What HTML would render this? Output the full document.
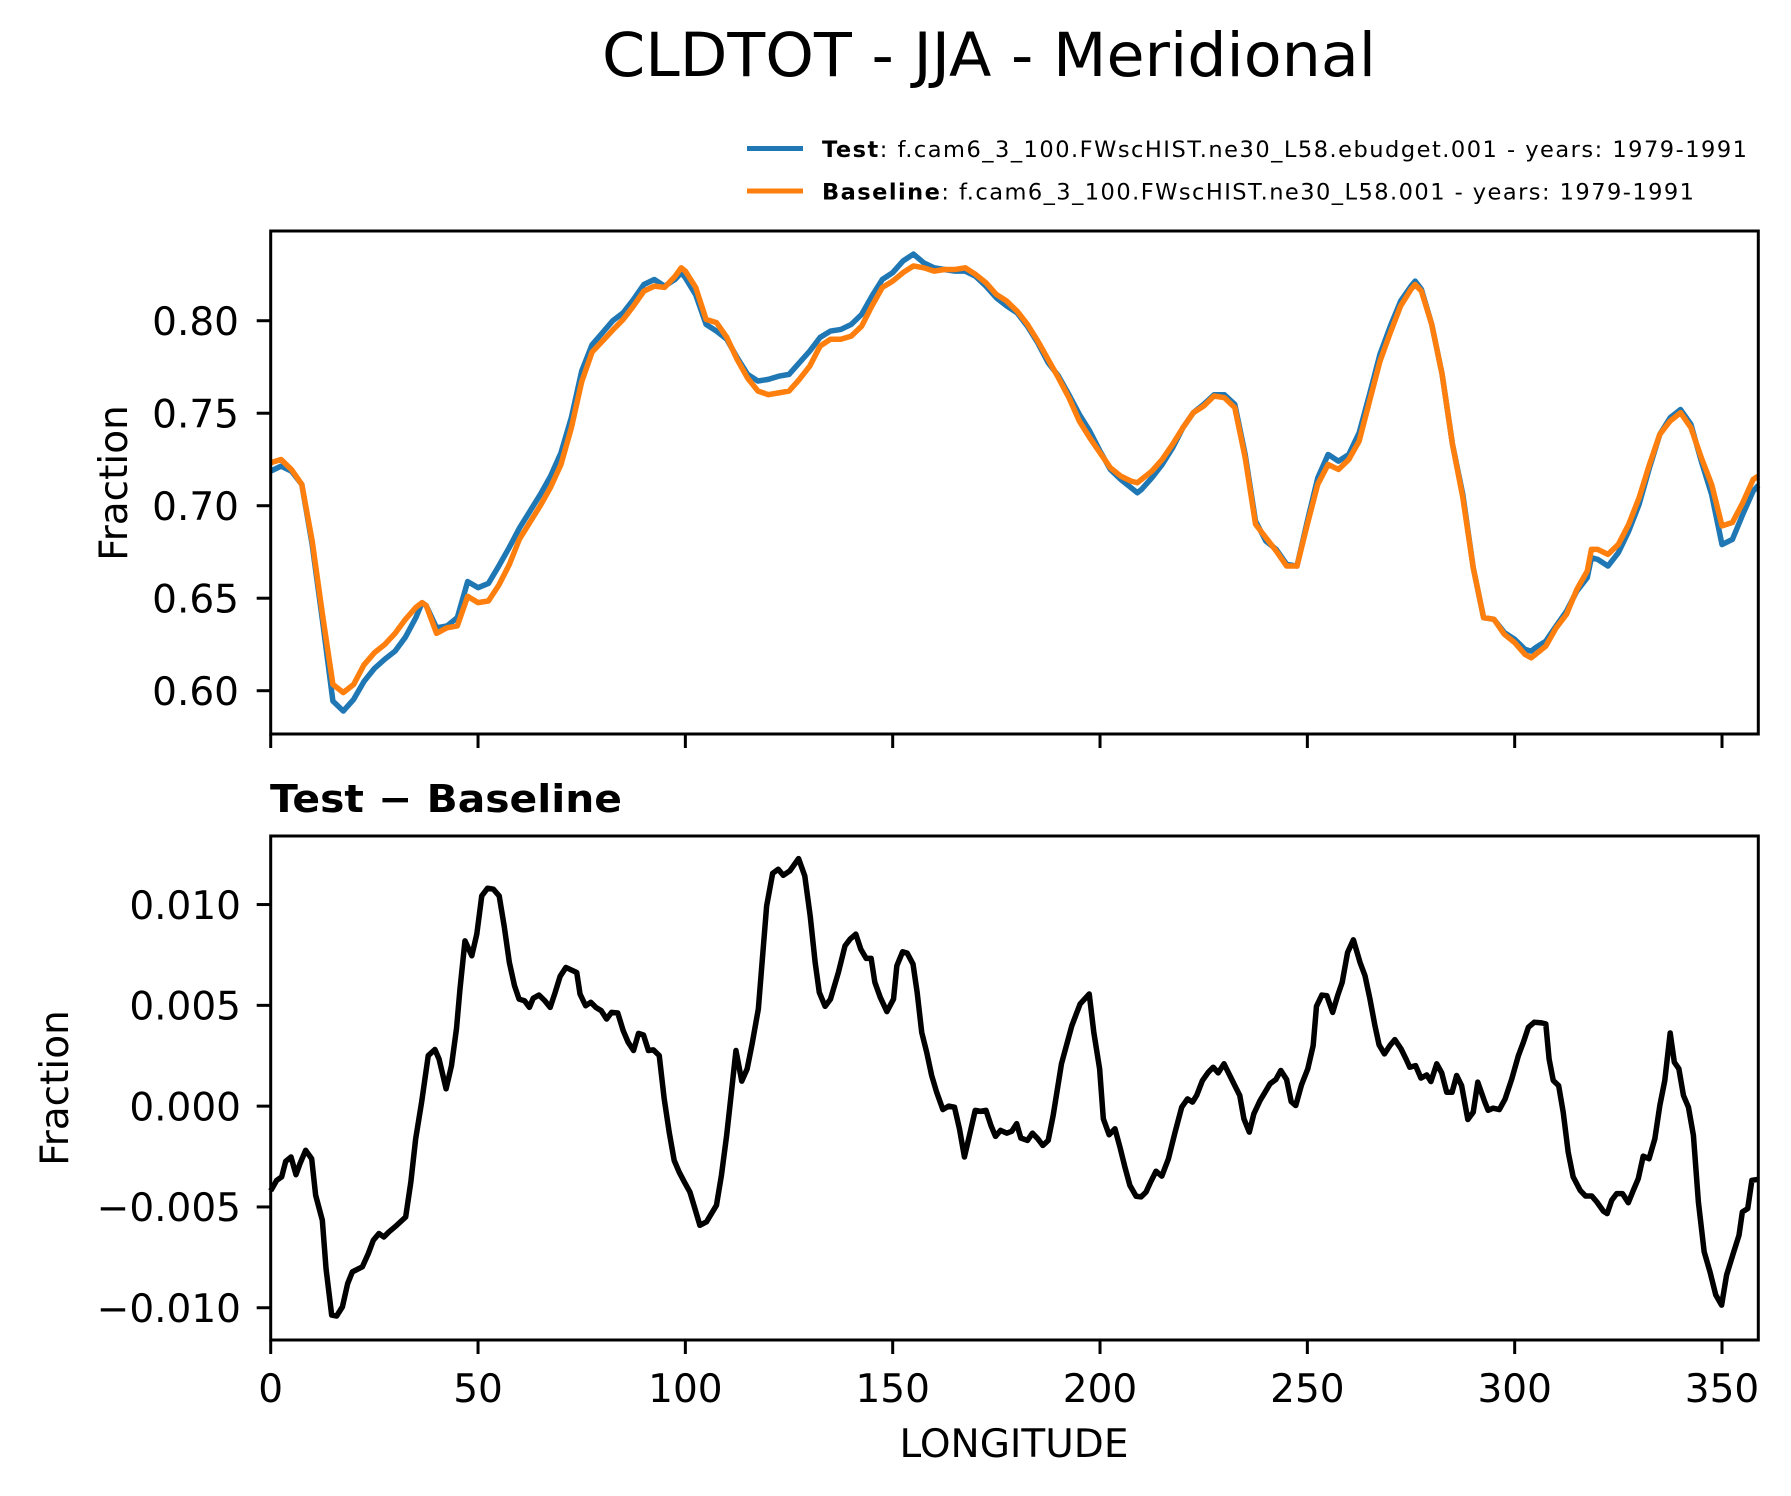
<!DOCTYPE html>
<html><head><meta charset="utf-8"><style>
html,body{margin:0;padding:0;background:#fff;}
svg{display:block;font-family:"DejaVu Sans","Liberation Sans",sans-serif;}
</style></head><body>
<svg id="fig" width="1791" height="1496" viewBox="0 0 1791 1496" xmlns="http://www.w3.org/2000/svg">
<rect width="1791" height="1496" fill="#fff"/>
<text x="989" y="76" font-size="61" text-anchor="middle" textLength="774" lengthAdjust="spacingAndGlyphs">CLDTOT - JJA - Meridional</text>
<g>
<line x1="747" y1="148.5" x2="803" y2="148.5" stroke="#1f77b4" stroke-width="5"/>
<text x="822" y="157" font-size="22.5" textLength="925" lengthAdjust="spacing"><tspan font-weight="bold">Test</tspan>: f.cam6_3_100.FWscHIST.ne30_L58.ebudget.001 - years: 1979-1991</text>
<line x1="747" y1="191" x2="803" y2="191" stroke="#ff7f0e" stroke-width="5"/>
<text x="822" y="199.5" font-size="22.5" textLength="872" lengthAdjust="spacing"><tspan font-weight="bold">Baseline</tspan>: f.cam6_3_100.FWscHIST.ne30_L58.001 - years: 1979-1991</text>
</g>
<g id="gtop"></g>
<g id="gbot"></g>
<text x="270" y="812" font-size="38" font-weight="bold" textLength="352" lengthAdjust="spacingAndGlyphs">Test − Baseline</text>
<text transform="translate(127,483) rotate(-90)" font-size="39" text-anchor="middle">Fraction</text>
<text transform="translate(68,1088) rotate(-90)" font-size="39" text-anchor="middle">Fraction</text>
<text x="1014" y="1457" font-size="39" text-anchor="middle">LONGITUDE</text>
</svg>
<script>
const lons = [0,2.5,5,7.5,10,12.5,15,17.5,20,22.5,25,27.5,30,32.5,35,36.5,37.5,40,42.5,45,47.5,50,52.5,55,57.5,60,62.5,65,67.5,70,72.5,75,77.5,80,82.5,85,87.5,90,92.5,95,97.5,99,100,102.5,105,107.5,110,112.5,115,117.5,
120,122.5,125,127.5,130,132.5,135,137.5,140,142.5,145,147.5,150,152.5,155,157.5,160,162.5,165,167.5,170,172.5,175,177.5,180,182.5,185,187.5,190,192.5,195,197.5,200,202.5,205,207.5,
209,
210,212.5,215,217.5,220,222.5,225,227.5,230,232.5,235,237.5,240,242.5,245,247.5,250,252.5,255,257.5,260,262.5,265,267.5,270,272.5,275,
276,
277.5,280,282.5,285,287.5,290,292.5,295,297.5,300,302.5,
304,
305,307.5,310,312.5,315,317.5,
318.5,
320,322.5,325,327.5,330,332.5,335,337.5,340,342.5,345,347.5,350,352.5,355,357.5,
358.75];
const baseline = [.7232,.725,.7196,.7115,.681,.641,.6034,.599,.6034,.614,.6205,.625,.631,.6386,.645,.6476,.646,.631,.634,.635,.651,.6476,.6485,.657,.668,.682,.691,.700,.710,.7223,.742,.767,.783,.789,.795,.8007,.808,.816,.8187,.818,.824,.8286,.8268,.818,.8007,.799,.791,.779,.769,.762,
.760,.761,.762,.7683,.7755,.7863,.790,.790,.7917,.797,.808,.818,.8214,.826,.8296,.8286,.8268,.8277,.8277,.8286,.825,.8205,.8142,.8106,.8052,.798,.789,.779,.769,.7584,.7458,.7368,.7286,.7205,.716,.7133,
.7124,
.7142,.7187,.725,.7332,.7422,.7503,.7539,.7593,.7584,.753,.726,.690,.6827,.6755,.6674,.6674,.690,.7115,.7223,.7196,.725,.735,.7566,.778,.7935,.808,.817,
.8196,
.816,.798,.771,.7332,.7043,.6665,.6395,.6386,.6305,.626,.6196,
.6178,
.6196,.6241,.634,.6413,.6548,.6647,
.6764,
.6764,.6737,.6791,.690,.7043,.7223,.7386,.7458,.7503,.7422,.726,.7115,.6891,.6909,.7016,.7142,
.716];
const test = [.7187,.7214,.7187,.7115,.679,.6377,.5944,.589,.5953,.605,.612,.617,.6214,.629,.6395,.6476,.646,.634,.635,.6395,.659,.6557,.658,.6674,.6773,.688,.697,.706,.716,.7286,.7476,.7728,.787,.7935,.800,.8043,.8115,.8196,.8223,.8187,.8223,.826,.8232,.814,.798,.7944,.790,.780,.771,.7674,
.7683,.770,.771,.7773,.7836,.791,.7944,.7953,.798,.8034,.8133,.8223,.826,.8323,.836,.8313,.8286,.8277,.8268,.8268,.824,.8187,.8124,.808,.8043,.797,.788,.7773,.770,.760,.7494,.7404,.7295,.7196,.7142,.7097,
.707,
.7088,.7151,.7223,.7313,.7422,.7503,.7548,.760,.760,.7548,.7277,.6917,.6809,.6764,.6683,.6674,.6917,.715,.7277,.7241,.7277,.7395,.7602,.7818,.797,.8106,.8187,
.8214,
.817,.798,.771,.7332,.706,.6665,.6395,.6386,.6314,.6278,.6223,
.6214,
.6232,.6268,.635,.643,.6539,.6611,
.6719,
.671,.6674,.6746,.6863,.7007,.7205,.7386,.7476,.752,.744,.7241,.706,.679,.6818,.6953,.7079,
.711];
const diffLons = [0,1.44,2.64,3.61,4.9,6.1,7.07,8.43,9.88,10.84,12.45,13.34,14.7,15.9,17.3,18.56,19.69,22.1,23.55,24.75,26.1,27.3,28.5,30.4,32.55,33.8,34.96,36.4,38.0,39.6,40.6,42.3,43.6,44.8,45.65,46.85,48.5,49.7,50.9,52.3,53.7,55.1,56.3,57.55,58.8,59.9,61.2,62.4,63.3,64.7,66.1,67.4,68.6,69.8,71.2,73.8,74.6,75.95,77.2,78.4,79.7,81.0,82.2,83.7,85.0,86.2,87.5,88.7,89.9,91.1,92.3,93.7,94.9,96.1,97.3,98.5,99.75,101.1,102.3,103.5,105.1,106.3,107.5,108.7,109.96,111.2,112.2,113.6,114.9,116.1,117.6,
119.6,121.05,122.4,123.6,125.2,127.3,128.8,130.1,131.3,132.3,133.7,135.0,136.9,138.5,139.7,141.1,142.3,143.6,144.8,145.7,147.0,148.6,150.2,151.0,152.4,153.5,154.9,155.9,157.0,158.2,159.4,160.6,162.1,163.5,164.9,166.1,167.3,168.7,169.9,171.2,172.5,173.7,174.8,176.0,177.5,178.7,179.9,180.9,182.5,183.7,185.0,186.2,187.5,188.7,190.7,193.2,195.2,197.4,198.5,199.9,200.8,202.2,203.6,204.8,206.0,207.2,208.7,209.9,211.1,212.2,213.5,214.9,216.5,218.1,219.7,221.1,222.3,223.3,224.7,226.1,227.3,228.5,229.9,231.3,232.5,233.7,234.7,236.0,237.1,238.6,
239.8,241.0,242.4,243.6,245.0,246.1,247.2,248.6,250.1,251.4,252.2,253.5,254.7,256.1,257.3,258.4,259.7,261.1,262.7,263.9,265.1,266.3,267.3,268.6,269.9,271.1,272.6,273.7,274.7,276.1,277.4,278.8,279.8,281.2,282.4,283.6,284.9,286.0,287.2,288.7,290.0,291.1,292.8,293.6,294.8,296.3,297.7,299.3,300.9,302.1,303.3,304.7,306.5,307.5,308.3,309.3,310.6,311.7,312.9,314.1,315.8,317.1,318.6,319.8,321.4,322.3,323.4,324.6,326.0,327.4,328.6,329.8,331.0,332.4,333.8,335.0,336.2,337.5,338.5,339.6,340.7,341.9,343.1,344.3,345.7,347.1,348.5,349.9,351.1,352.7,354.1,354.9,356.2,357.2,358.75];
const diffVals = [-.0042,-.00368,-.00351,-.00274,-.00252,-.0034,-.00285,-.00219,-.00261,-.00442,-.00566,-.00805,-.01036,-.01041,-.00995,-.0088,-.00822,-.00797,-.00731,-.00665,-.00632,-.00649,-.00624,-.00591,-.0055,-.00376,-.00162,.0002,.00251,.00281,.00234,.00086,.00201,.00383,.00581,.0082,.00746,.00853,.01043,.01081,.01076,.01043,.00894,.00713,.00597,.00531,.00523,.0049,.00535,.00551,.00523,.0049,.00564,.00644,.00688,.00663,.00556,.00498,.00515,.0049,.00474,.00432,.00465,.00462,.00375,.00317,.00276,.00361,.00353,.00276,.00279,.00251,.00036,-.00129,-.00269,-.00327,-.00376,-.00426,-.00508,-.00591,-.00574,-.00533,-.00492,-.00343,-.00145,.00086,.00276,.00124,.00185,.00309,.00482,
.00993,.01155,.01175,.01145,.01167,.01228,.01142,.00944,.00713,.00564,.00495,.00531,.00663,.00795,.00828,.00853,.00779,.00733,.00733,.00614,.0054,.00469,.00531,.00696,.00766,.00759,.00705,.00564,.00366,.00267,.00152,.00069,-.00017,0,-.00005,-.00112,-.00252,-.00129,-.00021,-.00026,-.00021,-.00096,-.0015,-.0012,-.00134,-.00125,-.00087,-.00158,-.0017,-.00134,-.00162,-.00195,-.0017,-.00046,.0021,.00399,.00507,.00556,.00366,.00185,-.00063,-.00142,-.00112,-.00203,-.00302,-.00393,-.00447,-.0045,-.00426,-.00376,-.00323,-.00347,-.00261,-.00129,-.00005,.00036,.0002,.00053,.00127,.00168,.00193,.00165,.0021,.00152,.00102,.00053,-.00063,-.00129,-.00038,.00028,
.00069,.00111,.00132,.00177,.00132,.00023,.00003,.00106,.00185,.003,.00495,.00551,.00548,.00465,.00548,.00614,.00762,.00825,.00713,.00647,.00531,.00399,.00304,.00259,.003,.0033,.00284,.00238,.00193,.00201,.00139,.00155,.00122,.0021,.00165,.00069,.00069,.00152,.00102,-.00066,-.0003,.00119,.0002,-.00021,-.0001,-.00017,.00036,.00135,.00251,.00317,.00391,.00416,.00413,.00408,.00234,.00127,.00102,-.0003,-.00228,-.00351,-.00418,-.00446,-.00446,-.00475,-.00521,-.00533,-.00467,-.00434,-.00434,-.00479,-.00418,-.0036,-.00248,-.00261,-.00162,.00003,.00127,.00363,.00218,.00185,.00053,-.00005,-.00145,-.00475,-.00723,-.00822,-.00937,-.00987,-.00838,-.00731,-.0064,-.00525,-.00508,-.00368,-.00363];
const xTicks = [0,50,100,150,200,250,300,350];
const topYTicks = [0.60,0.65,0.70,0.75,0.80];
const topYLabels = ["0.60","0.65","0.70","0.75","0.80"];
const botYTicks = [-0.010,-0.005,0,0.005,0.010];
const botYLabels = ["\u22120.010","\u22120.005","0.000","0.005","0.010"];

const NS = "http://www.w3.org/2000/svg";
const AXL = 270.7, AXR = 1758.3, XMAX = 358.75;
const xS = v => AXL + (v / XMAX) * (AXR - AXL);
const T1 = 231, B1 = 734, Y1MIN = 0.5766, Y1MAX = 0.8485;
const yTop = v => B1 - (v - Y1MIN) / (Y1MAX - Y1MIN) * (B1 - T1);
const T2 = 836, B2 = 1340, Y2MIN = -0.0116, Y2MAX = 0.0134;
const yBot = v => B2 - (v - Y2MIN) / (Y2MAX - Y2MIN) * (B2 - T2);

function mk(tag, attrs, parent) {
  const e = document.createElementNS(NS, tag);
  for (const k in attrs) e.setAttribute(k, attrs[k]);
  parent.appendChild(e);
  return e;
}
function pathFrom(xs, ys, yf) {
  return xs.map((x, i) => (i ? "L" : "M") + xS(x).toFixed(2) + " " + yf(ys[i]).toFixed(2)).join(" ");
}

const gTop = document.getElementById("gtop");
const gBot = document.getElementById("gbot");

const pTest = mk("path", {d: pathFrom(lons, test, yTop), fill: "none", stroke: "#1f77b4", "stroke-width": 5.5, "stroke-linejoin": "round"}, gTop);


const pBase = mk("path", {d: pathFrom(lons, baseline, yTop), fill: "none", stroke: "#ff7f0e", "stroke-width": 5.5, "stroke-linejoin": "round"}, gTop);


const pDiff = mk("path", {d: pathFrom(diffLons, diffVals, yBot), fill: "none", stroke: "#000", "stroke-width": 5.5, "stroke-linejoin": "round"}, gBot);



const f1 = mk("rect", {x: AXL, y: T1, width: AXR - AXL, height: B1 - T1, fill: "none", stroke: "#000", "stroke-width": 3}, gTop);


const f2 = mk("rect", {x: AXL, y: T2, width: AXR - AXL, height: B2 - T2, fill: "none", stroke: "#000", "stroke-width": 3}, gBot);



xTicks.forEach(t => {
  const x = xS(t);
  const a = mk("line", {x1: x, y1: B1, x2: x, y2: B1 + 14, stroke: "#000", "stroke-width": 3}, gTop);
  
  
  const b = mk("line", {x1: x, y1: B2, x2: x, y2: B2 + 14, stroke: "#000", "stroke-width": 3}, gBot);
  
  
  const tx = mk("text", {x: x, y: 1402, "font-size": 39, "text-anchor": "middle"}, gBot);
  tx.textContent = String(t);
  
  
});
topYTicks.forEach((t, i) => {
  const y = yTop(t);
  const a = mk("line", {x1: AXL - 14, y1: y, x2: AXL, y2: y, stroke: "#000", "stroke-width": 3}, gTop);
  
  
  const tx = mk("text", {x: 239, y: y + 14.3, "font-size": 39, "text-anchor": "end"}, gTop);
  tx.textContent = topYLabels[i];
  
  
});
botYTicks.forEach((t, i) => {
  const y = yBot(t);
  const a = mk("line", {x1: AXL - 14, y1: y, x2: AXL, y2: y, stroke: "#000", "stroke-width": 3}, gBot);
  
  
  const tx = mk("text", {x: 241, y: y + 14.3, "font-size": 39, "text-anchor": "end"}, gBot);
  tx.textContent = botYLabels[i];
  
  
});
</script>
</body></html>
